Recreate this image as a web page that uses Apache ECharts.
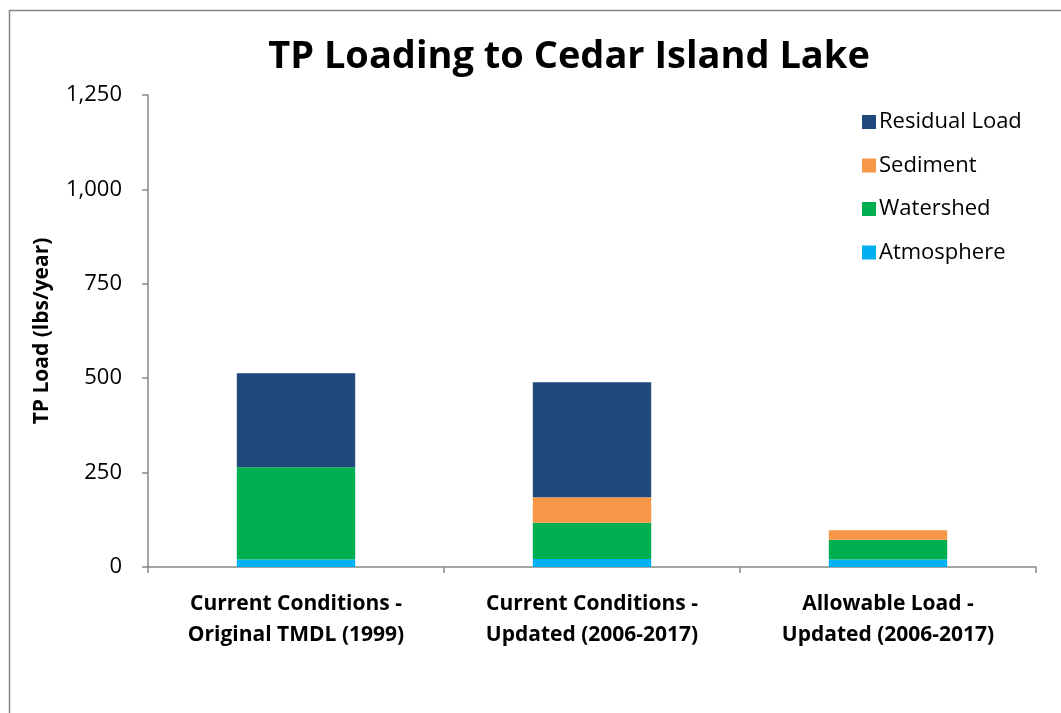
<!DOCTYPE html>
<html><head><meta charset="utf-8">
<script src="https://cdn.jsdelivr.net/npm/echarts@6/dist/echarts.min.js"></script>
<style>html,body{margin:0;padding:0;background:#fff}#c{width:1061px;height:713px}</style>
</head><body><div id="c"></div>
<script>
const categories = ["Current Conditions -\nOriginal TMDL (1999)", "Current Conditions -\nUpdated (2006-2017)", "Allowable Load -\nUpdated (2006-2017)"];
const atmosphere = [20, 21, 20];
const watershed = [244, 96, 52];
const sediment = [0, 68, 25];
const residual = [249, 304, 0];
const yTicks = [0, 250, 500, 750, 1000, 1250];

const font = "'Open Sans', 'Liberation Sans', sans-serif";
const chart = echarts.init(document.getElementById('c'), null, {renderer: 'canvas'});
function s(name, data, color) {
  return {name, type: 'bar', stack: 't', data, barWidth: '40%', itemStyle: {color}};
}
chart.setOption({
  animation: false,
  backgroundColor: '#fff',
  title: {text: 'TP Loading to Cedar Island Lake', left: 564, textAlign: 'center', top: 33,
    textStyle: {fontFamily: font, fontWeight: 'bold', fontSize: 38, color: '#000'}},
  graphic: [{type: 'rect', shape: {x: 9.5, y: 10.5, width: 1100, height: 800},
    style: {fill: 'none', stroke: '#888', lineWidth: 1.5}, silent: true}],
  legend: {orient: 'vertical', left: 857, top: 106, itemGap: 21.5, itemWidth: 14, itemHeight: 14,
    icon: 'rect', textStyle: {fontFamily: font, fontSize: 22, color: '#000', padding: [0, 0, 0, -2]},
    data: ['Residual Load', 'Sediment', 'Watershed', 'Atmosphere']},
  grid: {left: 148, right: 25, top: 95, bottom: 146},
  xAxis: {type: 'category', data: categories,
    axisLine: {lineStyle: {color: '#888', width: 1.5}},
    axisTick: {show: true, length: 6, lineStyle: {color: '#888', width: 1.5}},
    axisLabel: {margin: 22, lineHeight: 31, fontFamily: font, fontWeight: 'bold', fontSize: 21, color: '#000'}},
  yAxis: {type: 'value', min: 0, max: 1250, interval: 250,
    name: 'TP Load (lbs/year)', nameLocation: 'middle', nameGap: 95, nameRotate: 90,
    nameTextStyle: {fontFamily: font, fontWeight: 'bold', fontSize: 21, color: '#000'},
    axisLine: {show: true, lineStyle: {color: '#888', width: 1.5}},
    axisTick: {show: true, length: 6, lineStyle: {color: '#888', width: 1.5}},
    splitLine: {show: false},
    axisLabel: {margin: 26, fontFamily: font, fontSize: 22, color: '#000',
      formatter: v => yTicks.includes(v) ? v.toLocaleString('en-US') : ''}},
  series: [
    s('Atmosphere', atmosphere, '#00B0F0'),
    s('Watershed', watershed, '#00B050'),
    s('Sediment', sediment, '#F79646'),
    s('Residual Load', residual, '#1F497D')
  ]
});
</script></body></html>
